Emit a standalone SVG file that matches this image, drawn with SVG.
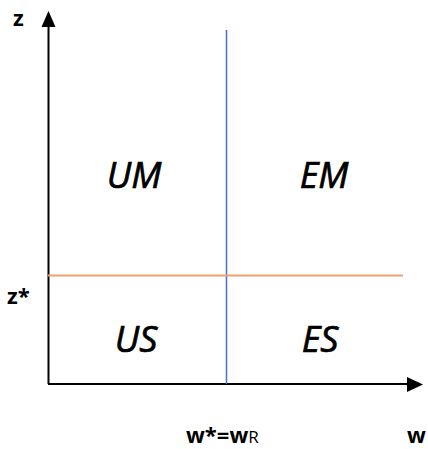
<svg xmlns="http://www.w3.org/2000/svg" width="428" height="449" viewBox="0 0 428 449">
<style>
.ax{stroke:#000;stroke-width:2;fill:none}
.region{font-family:"Open Sans","DejaVu Sans",sans-serif;font-style:italic;font-size:36px;fill:#000;stroke:#000;stroke-width:0.7;text-anchor:middle}
.lbl{font-family:"Open Sans","DejaVu Sans",sans-serif;font-weight:bold;font-size:22px;fill:#000}
</style>
<rect width="428" height="449" fill="#fff"/>
<g id="connectors">
<line class="ax" x1="48.5" y1="384" x2="48.5" y2="25"/>
<polygon points="48.5,11 41.5,27 55.5,27" fill="#000"/>
<line class="ax" x1="48" y1="384" x2="408" y2="384"/>
<polygon points="423,384.5 407,377 407,392" fill="#000"/>
<line x1="226.5" y1="30" x2="226.5" y2="384" stroke="#4472c4" stroke-width="1.5"/>
<line x1="48" y1="275.5" x2="403" y2="275.5" stroke="#f0a070" stroke-width="2"/>
</g>
<g id="UM"><text class="region" x="134" y="188">UM</text></g>
<g id="EM"><text class="region" x="324" y="188">EM</text></g>
<g id="US"><text class="region" x="136" y="352">US</text></g>
<g id="ES"><text class="region" x="320" y="352">ES</text></g>
<g id="labels">
<text class="lbl" x="13" y="26">z</text>
<text class="lbl" x="7" y="304">z*</text>
<text class="lbl" x="186" y="443">w*=w<tspan font-size="17" font-weight="normal">R</tspan></text>
<text class="lbl" x="407" y="443">w</text>
</g>
</svg>
